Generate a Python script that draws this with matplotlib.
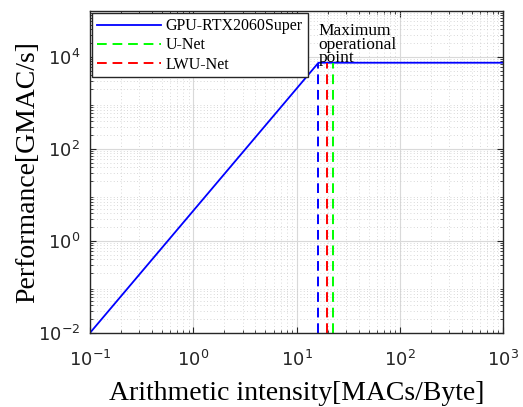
import matplotlib
matplotlib.use("Agg")
import matplotlib.pyplot as plt

# roofline of the GPU (intensity in MACs/Byte, performance in GMAC/s)
roof_x = [0.1, 16.3, 1000]
roof_y = [0.01, 7500, 7500]

# operating intensities of the networks
gpu_x = 16.3
unet_x = 22.7
lwunet_x = 19.7
peak = 7500

serif = ['Liberation Serif', 'DejaVu Serif']
sans = ['Liberation Sans', 'DejaVu Sans']

plt.rcParams['mathtext.fontset'] = 'custom'
plt.rcParams['mathtext.rm'] = 'Liberation Sans'
plt.rcParams['mathtext.it'] = 'Liberation Sans:italic'
plt.rcParams['mathtext.bf'] = 'Liberation Sans:bold'

fig = plt.figure(figsize=(5.23, 4.07), dpi=100)
ax = fig.add_axes([0.172, 0.182, 0.790, 0.791])

ax.plot(roof_x, roof_y, color=(0, 0, 1), lw=1.3, label='GPU-RTX2060Super')
ax.plot([unet_x, unet_x], [0.01, peak], color=(0, 1, 0), lw=1.4,
        dashes=(5, 3), label='U-Net')
ax.plot([lwunet_x, lwunet_x], [0.01, peak], color=(1, 0, 0), lw=1.4,
        dashes=(5, 3), label='LWU-Net')
ax.plot([gpu_x, gpu_x], [0.01, peak], color=(0, 0, 1), lw=1.4,
        dashes=(5, 3))

ax.set_xscale('log')
ax.set_yscale('log')
ax.set_xlim(0.1, 1000)
ax.set_ylim(0.01, 1e5)
ax.set_xticks([0.1, 1, 10, 100, 1000])
ax.set_yticks([1e-2, 1, 1e2, 1e4])

ax.grid(True, which='major', color='0.85', lw=0.8)
ax.grid(True, which='minor', color='0.8', lw=0.6, ls=(0, (1, 3)))
ax.tick_params(which='both', direction='in', top=True, right=True,
               color='0.15', labelcolor='0.15', labelsize=13)
ax.tick_params(which='major', length=4)
ax.tick_params(which='minor', length=2.5)
ax.tick_params(axis='x', which='major', pad=12)
ax.tick_params(axis='y', which='major', pad=7)
for s in ax.spines.values():
    s.set_color('0.15')
    s.set_linewidth(1.0)

ax.annotate('Maximum\noperational\npoint', xy=(gpu_x, peak), xytext=(0, -2.5),
            textcoords='offset points', family=serif, fontsize=12.5,
            ha='left', va='bottom', linespacing=0.78)

ax.set_xlabel('Arithmetic intensity[MACs/Byte]', family=serif, fontsize=20,
              labelpad=8)
ax.set_ylabel('Performance[GMAC/s]', family=serif, fontsize=20, labelpad=-2)

leg = ax.legend(loc='upper left', prop={'family': serif, 'size': 11.5},
                handlelength=4, handletextpad=0.3, borderaxespad=0.15,
                borderpad=0.3, fancybox=False, framealpha=1,
                edgecolor='0.15', labelspacing=0.2)
leg.get_frame().set_linewidth(1.0)

fig.savefig('out.png', dpi=100)
